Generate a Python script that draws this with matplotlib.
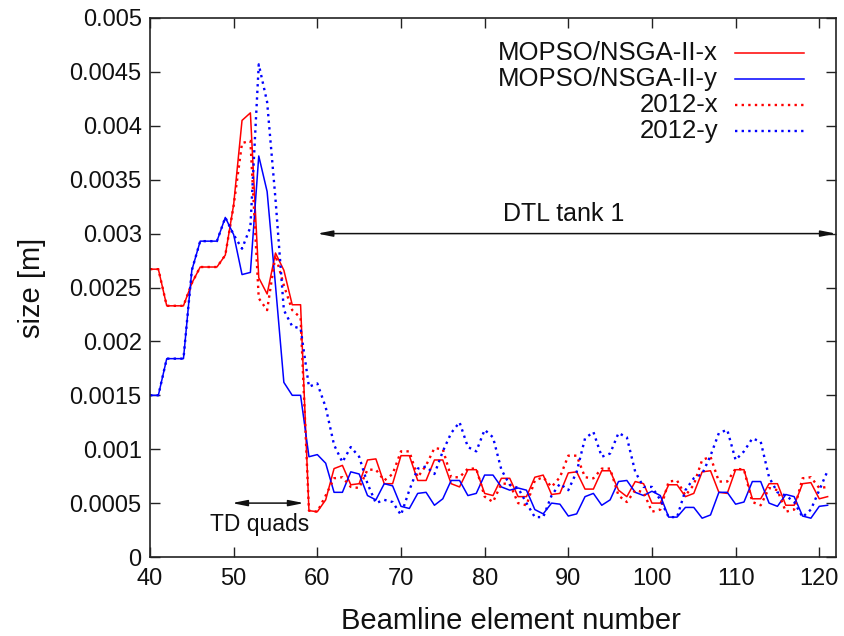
import matplotlib
matplotlib.use("Agg")
import matplotlib.pyplot as plt
from matplotlib.lines import Line2D

plt.rcParams['font.family'] = ['Liberation Sans', 'DejaVu Sans']

element = list(range(40, 122))

mopso_x = [0.00267, 0.00267, 0.00233, 0.00233, 0.00233, 0.00254, 0.00269, 0.00269, 0.00269, 0.0028,
           0.00327, 0.00405, 0.00412, 0.00259, 0.00244, 0.00282, 0.00266, 0.00234, 0.00234, 0.00043,
           0.00042, 0.00053, 0.00082, 0.00085, 0.00067, 0.00068, 0.0009, 0.00091, 0.00068, 0.00068,
           0.00094, 0.00094, 0.00071, 0.00071, 0.0009, 0.0009, 0.00068, 0.00065, 0.00081, 0.00081,
           0.00059, 0.00057, 0.00073, 0.00073, 0.00056, 0.00056, 0.00074, 0.00076, 0.00058, 0.00059,
           0.00078, 0.00079, 0.00063, 0.00063, 0.0008, 0.0008, 0.00062, 0.00056, 0.0007, 0.00068,
           0.0005, 0.0005, 0.00067, 0.00067, 0.00056, 0.00059, 0.00079, 0.0008, 0.0006, 0.00059,
           0.00081, 0.00081, 0.00054, 0.00054, 0.00068, 0.00068, 0.00048, 0.00048, 0.00068, 0.00069,
           0.00054, 0.00056]

mopso_y = [0.0015, 0.0015, 0.00184, 0.00184, 0.00184, 0.00266, 0.00293, 0.00293, 0.00293, 0.00315,
           0.00299, 0.00262, 0.00264, 0.00372, 0.00339, 0.00252, 0.00162, 0.0015, 0.0015, 0.00093,
           0.00095, 0.00087, 0.0006, 0.0006, 0.00079, 0.00077, 0.00057, 0.00053, 0.00068, 0.00066,
           0.00047, 0.00045, 0.00059, 0.0006, 0.00048, 0.00054, 0.00071, 0.00071, 0.00057, 0.00059,
           0.00076, 0.00076, 0.00065, 0.00062, 0.00064, 0.00062, 0.00044, 0.0004, 0.0005, 0.00049,
           0.00038, 0.0004, 0.00056, 0.00059, 0.00048, 0.00053, 0.0007, 0.00071, 0.0006, 0.00057,
           0.00061, 0.00057, 0.00037, 0.00037, 0.00046, 0.00046, 0.00036, 0.00039, 0.0006, 0.0006,
           0.00049, 0.00051, 0.0007, 0.0007, 0.0005, 0.00047, 0.00058, 0.00056, 0.00038, 0.00036,
           0.00047, 0.00048]

x2012 = [0.00267, 0.00267, 0.00233, 0.00233, 0.00233, 0.00254, 0.00269, 0.00269, 0.00269, 0.0028,
         0.00326, 0.00384, 0.00386, 0.0024, 0.00229, 0.0028, 0.00252, 0.00229, 0.00222, 0.00043,
         0.00042, 0.00057, 0.00073, 0.00074, 0.00065, 0.00064, 0.00081, 0.00081, 0.00071, 0.00077,
         0.00098, 0.00098, 0.00074, 0.00085, 0.00101, 0.001, 0.00074, 0.00074, 0.00082, 0.00082,
         0.00056, 0.00051, 0.00068, 0.00068, 0.0005, 0.00048, 0.00071, 0.00074, 0.00065, 0.00074,
         0.00094, 0.00094, 0.00074, 0.00073, 0.00082, 0.00082, 0.00057, 0.00051, 0.00062, 0.0006,
         0.00042, 0.00044, 0.0007, 0.00071, 0.00057, 0.00067, 0.0009, 0.00093, 0.0007, 0.0007,
         0.00082, 0.00081, 0.00051, 0.00048, 0.00064, 0.00062, 0.00042, 0.00044, 0.00073, 0.00074,
         0.00064, 0.00065]

y2012 = [0.0015, 0.0015, 0.00184, 0.00184, 0.00184, 0.00266, 0.00293, 0.00293, 0.00293, 0.00315,
         0.00299, 0.00286, 0.00306, 0.00457, 0.00422, 0.00332, 0.00229, 0.00214, 0.00212, 0.00158,
         0.00161, 0.00139, 0.00104, 0.00088, 0.00102, 0.00093, 0.00068, 0.0005, 0.00053, 0.00051,
         0.00039, 0.00062, 0.00082, 0.00084, 0.00077, 0.00098, 0.00115, 0.00125, 0.00102, 0.00098,
         0.00118, 0.00111, 0.00081, 0.00067, 0.00064, 0.0005, 0.00037, 0.00037, 0.00057, 0.00068,
         0.00062, 0.00079, 0.0011, 0.00116, 0.00093, 0.00096, 0.00115, 0.00111, 0.00079, 0.00065,
         0.00065, 0.00053, 0.00037, 0.00037, 0.00062, 0.00073, 0.00077, 0.00094, 0.00115, 0.00118,
         0.0009, 0.00098, 0.0011, 0.00107, 0.00074, 0.0006, 0.00057, 0.00051, 0.00037, 0.00044,
         0.00062, 0.0008]

labels = ['MOPSO/NSGA-II-x', 'MOPSO/NSGA-II-y', '2012-x', '2012-y']
x_ticks = [40, 50, 60, 70, 80, 90, 100, 110, 120]
y_ticks = [0, 0.0005, 0.001, 0.0015, 0.002, 0.0025, 0.003, 0.0035, 0.004, 0.0045, 0.005]
y_tick_labels = ['0', '0.0005', '0.001', '0.0015', '0.002', '0.0025', '0.003',
                 '0.0035', '0.004', '0.0045', '0.005']

RED = '#ff0000'
BLUE = '#0000ff'
DOT = (0, (1, 1.8))

fig = plt.figure(figsize=(8.44, 6.36), dpi=100)
ax = fig.add_axes([150 / 844, 1 - 557 / 636, 686 / 844, 539 / 636])

series = [
    (mopso_x, RED, '-', 1.1),
    (mopso_y, BLUE, '-', 1.1),
    (x2012, RED, DOT, 1.7),
    (y2012, BLUE, DOT, 1.7),
]
for vals, col, ls, lw in series:
    ax.plot(element, vals, color=col, linestyle=ls, linewidth=lw)

ax.set_xlim(40, 122)
ax.set_ylim(0, 0.005)
ax.set_xticks(x_ticks)
ax.set_xticklabels([str(t) for t in x_ticks])
ax.set_yticks(y_ticks)
ax.set_yticklabels(y_tick_labels)
ax.tick_params(direction='in', length=7, width=1, labelsize=17, top=True, right=True,
               colors='#222222', labelcolor='#111111')
ax.tick_params(axis='x', pad=8)
ax.tick_params(axis='y', pad=6)
for s in ax.spines.values():
    s.set_linewidth(1.2)
    s.set_color('#222222')

ax.set_xlabel('Beamline element number', fontsize=21, color='#111111')
ax.xaxis.set_label_coords(0.526, -0.092)
ax.set_ylabel('size [m]', fontsize=21, color='#111111', labelpad=17)

# legend drawn manually (right-aligned texts, samples on the right)
leg_y = [0.935, 0.887, 0.839, 0.790]
for (vals, col, ls, lw), lab, yy in zip(series, labels, leg_y):
    ax.text(0.828, yy, lab, transform=ax.transAxes, ha='right', va='center',
            fontsize=18.5, color='#111111')
    ax.add_line(Line2D([0.853, 0.953], [yy, yy], transform=ax.transAxes,
                       color=col, linestyle=ls, linewidth=lw))

arrow_kw = dict(arrowstyle='<|-|>,head_length=0.9,head_width=0.18', color='#111111',
                lw=1.1, shrinkA=0, shrinkB=0)
ax.annotate('', xy=(60, 0.003), xytext=(122, 0.003), arrowprops=arrow_kw)
ax.text(89.5, 0.00318, 'DTL tank 1', ha='center', va='center', fontsize=18, color='#111111')

ax.annotate('', xy=(49.8, 0.0005), xytext=(58.4, 0.0005), arrowprops=arrow_kw)
ax.text(53.1, 0.0003, 'TD quads', ha='center', va='center', fontsize=16.5, color='#111111')

fig.savefig('out.png', dpi=100)
